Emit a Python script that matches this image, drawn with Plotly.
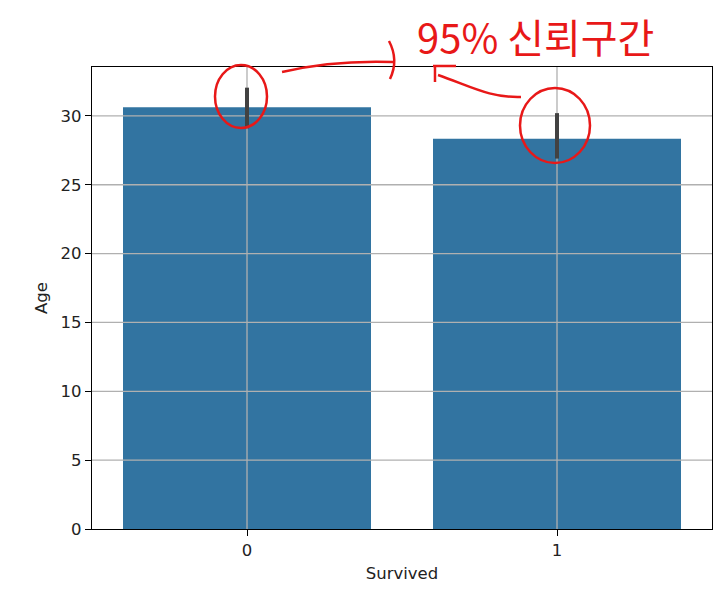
import plotly.graph_objects as go

# ---- data ----
categories = [0, 1]
mean_age = [30.63, 28.34]
ci_low = [29.1, 26.9]
ci_high = [32.05, 30.2]
y_ticks = [0, 5, 10, 15, 20, 25, 30]
x_title = "Survived"
y_title = "Age"
note_text = "95% 신뢰구간"

W, H = 726, 590
OFF = 8  # page body margin
# plot area in screen pixels
PL, PR, PT, PB = 92, 712, 67, 529
PW, PH = PR - PL, PB - PT
YMAX = 33.55


def px(x, y):
    return (x - PL) / PW, (PB - y) / PH


fig = go.Figure()
fig.add_trace(go.Bar(x=categories, y=mean_age, width=0.8,
                     marker=dict(color="#3274a1", line=dict(width=0)),
                     showlegend=False, hoverinfo="skip"))

# grid lines drawn above the bars (matplotlib style), below the error bars
gx, gy = [], []
for t in y_ticks[1:]:
    gx += [-0.5, 1.5, None]
    gy += [t, t, None]
for c in categories:
    gx += [c, c, None]
    gy += [0, YMAX, None]
fig.add_trace(go.Scatter(x=gx, y=gy, mode="lines",
                         line=dict(color="#b0b0b0", width=1.3),
                         showlegend=False, hoverinfo="skip"))

# confidence interval lines
ex, ey = [], []
for c, lo, hi in zip(categories, ci_low, ci_high):
    ex += [c, c, None]
    ey += [lo, hi, None]
fig.add_trace(go.Scatter(x=ex, y=ey, mode="lines",
                         line=dict(color="#424242", width=4),
                         showlegend=False, hoverinfo="skip"))

# ---- red hand-drawn style annotations ----
red = "#e81818"
shapes = []
for (x0, y0, x1, y1) in [(215, 65, 267, 128), (520, 88, 590, 163)]:
    a0, b1 = px(x0, y0)
    a1, b0 = px(x1, y1)
    shapes.append(dict(type="circle", xref="paper", yref="paper",
                       x0=a0, x1=a1, y0=b0, y1=b1,
                       line=dict(color=red, width=2.5)))


def path(cmd):
    out = []
    for tok in cmd:
        if isinstance(tok, str):
            out.append(tok)
        else:
            a, b = px(*tok)
            out.append(f"{a:.4f},{b:.4f}")
    return " ".join(out)


paths = [
    ["M", (282, 72), "Q", (333, 60), (393, 62)],
    ["M", (389, 41), "Q", (399, 60), (390, 79)],
    ["M", (521, 97), "C", (490, 98), (470, 86), (438, 75)],
    ["M", (433, 66), "L", (456, 66)],
    ["M", (435, 66), "L", (435, 82)],
]
for p in paths:
    shapes.append(dict(type="path", xref="paper", yref="paper", path=path(p),
                       line=dict(color=red, width=2.5)))

tx, ty = px(535, 36)
fig.add_annotation(x=tx, y=ty, xref="paper", yref="paper", text=note_text,
                   showarrow=False, xanchor="center", yanchor="middle",
                   font=dict(family="Noto Sans CJK KR", size=40, color=red))

FS = 16.5
txt = "#222222"
axis_common = dict(showline=True, linecolor="black", linewidth=1.3, mirror=True,
                   ticks="outside", ticklen=6, tickcolor="black", tickwidth=1.3,
                   showgrid=False, zeroline=False, layer="above traces",
                   tickfont=dict(family="DejaVu Sans", size=FS, color=txt))

fig.update_layout(
    width=W, height=H,
    margin=dict(l=PL - OFF, r=W + OFF - PR, t=PT - OFF, b=H + OFF - PB),
    plot_bgcolor="white", paper_bgcolor="white",
    shapes=shapes,
    xaxis=dict(range=[-0.5, 1.5], tickvals=categories,
               ticktext=[str(c) for c in categories],
               title=dict(text=x_title, standoff=8,
                          font=dict(family="DejaVu Sans", size=FS, color=txt)),
               **axis_common),
    yaxis=dict(range=[0, YMAX], tickvals=y_ticks,
               title=dict(text=y_title, standoff=8,
                          font=dict(family="DejaVu Sans", size=FS, color=txt)),
               **axis_common),
)

fig.write_html("out.html")
